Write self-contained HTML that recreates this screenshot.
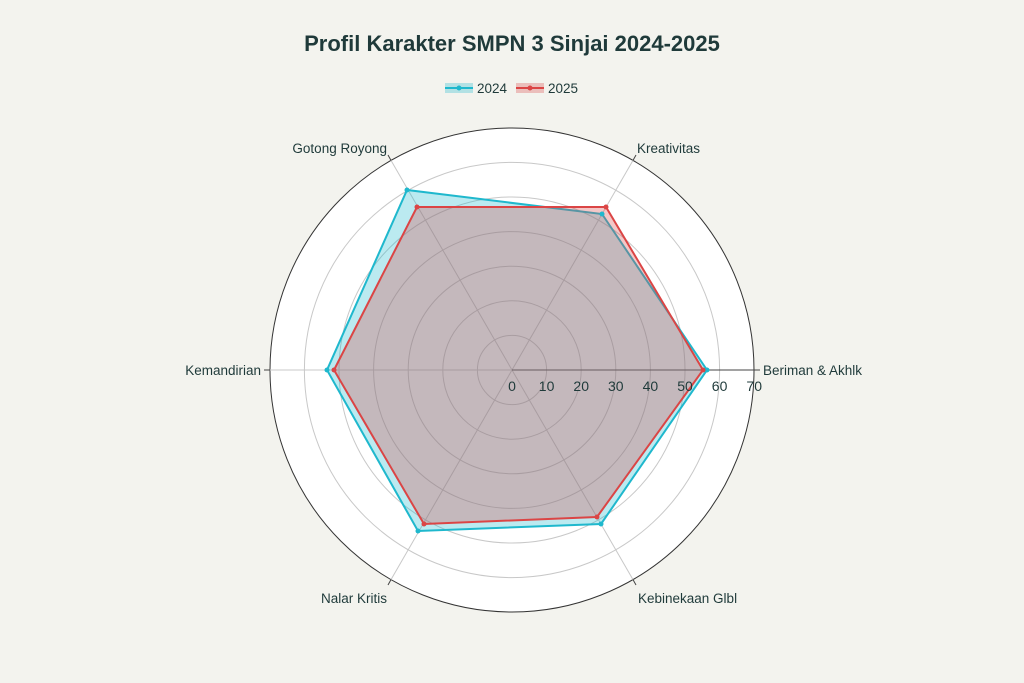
<!DOCTYPE html>
<html><head><meta charset="utf-8"><style>
html,body{margin:0;padding:0;background:#f3f3ee;}
svg{display:block;font-family:"Liberation Sans",sans-serif;}
</style></head><body>
<svg width="1024" height="683" viewBox="0 0 1024 683">
<rect width="1024" height="683" fill="#f3f3ee"/>
<text x="512" y="51" text-anchor="middle" font-size="22" font-weight="bold" fill="#1f3a3a">Profil Karakter SMPN 3 Sinjai 2024-2025</text>
<rect x="445" y="83" width="28" height="10" fill="#1fb8cd" fill-opacity="0.3"/>
<line x1="445" y1="88" x2="473" y2="88" stroke="#1fb8cd" stroke-width="2"/>
<circle cx="459" cy="88" r="2.5" fill="#1fb8cd"/>
<text x="477" y="93" font-size="13.5" fill="#1f3a3a">2024</text>
<rect x="516" y="83" width="28" height="10" fill="#db4545" fill-opacity="0.3"/>
<line x1="516" y1="88" x2="544" y2="88" stroke="#db4545" stroke-width="2"/>
<circle cx="530" cy="88" r="2.5" fill="#db4545"/>
<text x="548" y="93" font-size="13.5" fill="#1f3a3a">2025</text>
<circle cx="512" cy="370" r="242" fill="#fff" stroke="#333" stroke-width="1"/>
<g fill="none" stroke="#c8c8c8" stroke-width="1">
<circle cx="512" cy="370" r="34.6"/><circle cx="512" cy="370" r="69.2"/><circle cx="512" cy="370" r="103.8"/>
<circle cx="512" cy="370" r="138.4"/><circle cx="512" cy="370" r="173"/><circle cx="512" cy="370" r="207.6"/>
<line x1="512" y1="370" x2="633" y2="160.4"/><line x1="512" y1="370" x2="391" y2="160.4"/>
<line x1="512" y1="370" x2="270" y2="370"/><line x1="512" y1="370" x2="391" y2="579.6"/>
<line x1="512" y1="370" x2="633" y2="579.6"/>
</g>
<g stroke="#444" stroke-width="1">
<line x1="512" y1="370" x2="760" y2="370"/>
<line x1="633" y1="160.4" x2="636" y2="155"/><line x1="391" y1="160.4" x2="388" y2="155"/>
<line x1="270" y1="370" x2="264" y2="370"/><line x1="391" y1="579.6" x2="388" y2="585"/>
<line x1="633" y1="579.6" x2="636" y2="585"/>
</g>
<polygon points="707,370 602,214 407,190 327,370 418,531 601,524" fill="#1fb8cd" fill-opacity="0.3" stroke="#1fb8cd" stroke-width="2"/>
<polygon points="703,370 606,207 417,207 334,370 424,524 597,517" fill="#db4545" fill-opacity="0.3" stroke="#db4545" stroke-width="2"/>
<g fill="#1fb8cd"><circle cx="707" cy="370" r="2.5"/><circle cx="602" cy="214" r="2.5"/><circle cx="407" cy="190" r="2.5"/><circle cx="327" cy="370" r="2.5"/><circle cx="418" cy="531" r="2.5"/><circle cx="601" cy="524" r="2.5"/></g>
<g fill="#db4545"><circle cx="703" cy="370" r="2.5"/><circle cx="606" cy="207" r="2.5"/><circle cx="417" cy="207" r="2.5"/><circle cx="334" cy="370" r="2.5"/><circle cx="424" cy="524" r="2.5"/><circle cx="597" cy="517" r="2.5"/></g>
<g font-size="14" fill="#1f3a3a" text-anchor="middle">
<text x="512" y="391">0</text><text x="546.6" y="391">10</text><text x="581.2" y="391">20</text><text x="615.8" y="391">30</text><text x="650.4" y="391">40</text><text x="685" y="391">50</text><text x="719.6" y="391">60</text><text x="754.2" y="391">70</text>
</g>
<g font-size="13.5" fill="#1f3a3a">
<text x="763" y="375">Beriman &amp; Akhlk</text>
<text x="637" y="153">Kreativitas</text>
<text x="387" y="153" text-anchor="end">Gotong Royong</text>
<text x="261" y="375" text-anchor="end">Kemandirian</text>
<text x="387" y="603" text-anchor="end">Nalar Kritis</text>
<text x="638" y="603">Kebinekaan Glbl</text>
</g>
</svg>
</body></html>
